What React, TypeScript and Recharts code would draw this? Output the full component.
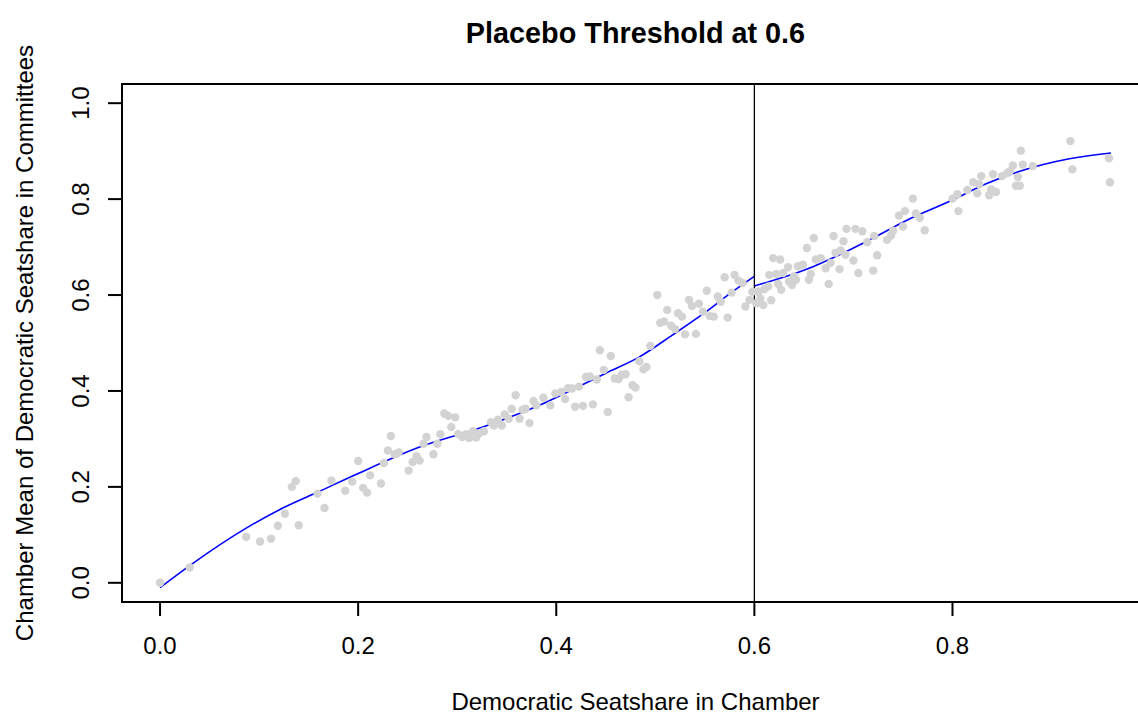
import React from 'react';
import {
  ComposedChart,
  Scatter,
  Line,
  XAxis,
  YAxis,
  ReferenceLine,
  ReferenceArea,
} from 'recharts';

const FONT = '"Liberation Sans", Arial, Helvetica, sans-serif';

const chartTitle = 'Placebo Threshold at 0.6';
const xTitle = 'Democratic Seatshare in Chamber';
const yTitle = 'Chamber Mean of Democratic Seatshare in Committees';

const xTicks = [0, 0.2, 0.4, 0.6, 0.8];
const yTicks = [0, 0.2, 0.4, 0.6, 0.8, 1.0];
const threshold = 0.6;

const seatshare = [
  0.0, 0.03, 0.087, 0.101, 0.112, 0.119, 0.126, 0.133, 0.137, 0.14, 0.159, 0.166,
  0.173, 0.187, 0.194, 0.2, 0.205, 0.209, 0.212, 0.223, 0.226, 0.23, 0.233, 0.237,
  0.241, 0.251, 0.255, 0.259, 0.262, 0.266, 0.269, 0.276, 0.28, 0.283, 0.287, 0.291,
  0.294, 0.298, 0.301, 0.305, 0.309, 0.312, 0.316, 0.319, 0.322, 0.327, 0.334, 0.337,
  0.341, 0.345, 0.348, 0.352, 0.355, 0.359, 0.363, 0.366, 0.369, 0.373, 0.377, 0.38,
  0.387, 0.394, 0.399, 0.405, 0.409, 0.412, 0.416, 0.419, 0.423, 0.427, 0.43, 0.434,
  0.437, 0.441, 0.444, 0.448, 0.452, 0.455, 0.459, 0.463, 0.466, 0.47, 0.473, 0.477,
  0.48, 0.484, 0.488, 0.491, 0.495, 0.502, 0.505, 0.509, 0.512, 0.516, 0.52, 0.523,
  0.527, 0.53, 0.534, 0.537, 0.541, 0.544, 0.548, 0.552, 0.555, 0.559, 0.563, 0.566,
  0.57, 0.573, 0.577, 0.58, 0.584, 0.588, 0.591, 0.595, 0.598, 0.602, 0.604, 0.606,
  0.609, 0.61, 0.614, 0.615, 0.617, 0.619, 0.622, 0.624, 0.626, 0.627, 0.629, 0.634,
  0.635, 0.638, 0.64, 0.642, 0.644, 0.649, 0.653, 0.655, 0.657, 0.66, 0.662, 0.667,
  0.672, 0.675, 0.677, 0.68, 0.682, 0.686, 0.687, 0.69, 0.692, 0.693, 0.7, 0.702,
  0.705, 0.709, 0.714, 0.72, 0.721, 0.724, 0.734, 0.738, 0.74, 0.746, 0.75, 0.752,
  0.76, 0.763, 0.767, 0.772, 0.8, 0.805, 0.806, 0.815, 0.821, 0.825, 0.827, 0.829,
  0.837, 0.839, 0.841, 0.844, 0.85, 0.855, 0.858, 0.861, 0.864, 0.866, 0.868, 0.869,
  0.871, 0.881, 0.919, 0.921, 0.958, 0.959,
];

const committeeMean = [
  0.0, 0.032, 0.096, 0.086, 0.092, 0.119, 0.144, 0.2, 0.212, 0.12, 0.186, 0.156,
  0.213, 0.192, 0.211, 0.254, 0.198, 0.188, 0.224, 0.207, 0.25, 0.276, 0.306, 0.268,
  0.272, 0.234, 0.252, 0.264, 0.255, 0.29, 0.304, 0.268, 0.29, 0.31, 0.353, 0.348,
  0.325, 0.345, 0.31, 0.304, 0.31, 0.302, 0.316, 0.303, 0.311, 0.316, 0.335, 0.328,
  0.34, 0.328, 0.351, 0.342, 0.363, 0.391, 0.342, 0.361, 0.363, 0.333, 0.379, 0.37,
  0.386, 0.37, 0.395, 0.398, 0.383, 0.406, 0.405, 0.367, 0.409, 0.369, 0.429, 0.43,
  0.372, 0.424, 0.485, 0.444, 0.356, 0.473, 0.426, 0.425, 0.434, 0.435, 0.387, 0.412,
  0.407, 0.462, 0.445, 0.45, 0.494, 0.6, 0.542, 0.545, 0.569, 0.536, 0.529, 0.562,
  0.555, 0.518, 0.59, 0.577, 0.519, 0.582, 0.565, 0.609, 0.556, 0.555, 0.597, 0.586,
  0.637, 0.553, 0.605, 0.642, 0.63, 0.625, 0.576, 0.59, 0.607, 0.583, 0.607, 0.593,
  0.579, 0.612, 0.618, 0.642, 0.589, 0.677, 0.644, 0.623, 0.674, 0.611, 0.646, 0.658,
  0.628, 0.621, 0.639, 0.632, 0.66, 0.663, 0.698, 0.632, 0.644, 0.719, 0.674, 0.677,
  0.656, 0.623, 0.667, 0.723, 0.688, 0.654, 0.693, 0.712, 0.684, 0.738, 0.672, 0.738,
  0.646, 0.733, 0.71, 0.651, 0.723, 0.683, 0.715, 0.724, 0.734, 0.766, 0.743, 0.775,
  0.801, 0.77, 0.761, 0.735, 0.801, 0.81, 0.775, 0.819, 0.835, 0.812, 0.831, 0.848,
  0.808, 0.82, 0.852, 0.815, 0.848, 0.854, 0.858, 0.87, 0.828, 0.846, 0.828, 0.901,
  0.872, 0.869, 0.921, 0.862, 0.885, 0.835,
];

// fitted curve below the threshold
const fitBelowX = [0, 0.03, 0.087, 0.126, 0.16, 0.2, 0.262, 0.326, 0.383, 0.4165, 0.45, 0.484, 0.5175, 0.551, 0.578, 0.6];
const fitBelowY = [-0.01, 0.036, 0.114, 0.158, 0.19, 0.228, 0.283, 0.325, 0.37, 0.403, 0.437, 0.471, 0.517, 0.565, 0.607, 0.639];

// fitted curve above the threshold
const fitAboveX = [0.6, 0.652, 0.686, 0.72, 0.753, 0.8, 0.834, 0.868, 0.918, 0.96];
const fitAboveY = [0.619, 0.653, 0.684, 0.719, 0.755, 0.798, 0.832, 0.858, 0.884, 0.896];

const points = seatshare.map((x, i) => ({ x, y: committeeMean[i] }));
const fitBelow = fitBelowX.map((x, i) => ({ x, y: fitBelowY[i] }));
const fitAbove = fitAboveX.map((x, i) => ({ x, y: fitAboveY[i] }));

const X_DOMAIN = [-0.0384, 0.9984];
const Y_DOMAIN = [-0.04, 1.04];

const XTick = (props: any) => {
  const { x, y, payload } = props;
  return (
    <text x={x} y={y + 36} textAnchor="middle" fontSize={24} fontFamily={FONT} fill="#000">
      {Number(payload.value).toFixed(1)}
    </text>
  );
};

const YTick = (props: any) => {
  const { x, y, payload } = props;
  const bx = x - 17;
  return (
    <text
      x={bx}
      y={y}
      transform={`rotate(-90, ${bx}, ${y})`}
      textAnchor="middle"
      fontSize={24}
      fontFamily={FONT}
      fill="#000"
    >
      {Number(payload.value).toFixed(1)}
    </text>
  );
};

const XTitle = (props: any) => {
  const vb = props.viewBox || {};
  return (
    <text
      x={vb.x + vb.width / 2}
      y={vb.y + 108}
      textAnchor="middle"
      fontSize={24}
      fontFamily={FONT}
      fill="#000"
    >
      {xTitle}
    </text>
  );
};

const YTitle = (props: any) => {
  const vb = props.viewBox || {};
  const bx = vb.x + vb.width - 89;
  const cy = vb.y + vb.height / 2;
  return (
    <text
      x={bx}
      y={cy}
      transform={`rotate(-90, ${bx}, ${cy})`}
      textAnchor="middle"
      fontSize={24}
      fontFamily={FONT}
      fill="#000"
    >
      {yTitle}
    </text>
  );
};

const Dot = (props: any) => {
  const { cx, cy } = props;
  if (cx == null || cy == null) return null;
  return <circle cx={cx} cy={cy} r={4.2} fill="#d3d3d3" />;
};

export default function App() {
  return (
    <div
      style={{
        position: 'absolute',
        left: 0,
        top: 0,
        width: 1138,
        height: 715,
        overflow: 'hidden',
        background: '#fff',
        fontFamily: FONT,
      }}
    >
      <div
        style={{
          position: 'absolute',
          left: 0,
          top: 18.6,
          width: 1271,
          textAlign: 'center',
          fontSize: 28.8,
          lineHeight: 1,
          fontWeight: 'bold',
          color: '#000',
        }}
      >
        {chartTitle}
      </div>
      <ComposedChart
        width={1160}
        height={715}
        margin={{ top: 84, right: 11, bottom: 0, left: 0 }}
      >
        <XAxis
          dataKey="x"
          type="number"
          domain={X_DOMAIN}
          allowDataOverflow
          ticks={xTicks}
          interval={0}
          height={113}
          tickSize={14}
          axisLine={false}
          tickLine={{ stroke: '#000', strokeWidth: 2 }}
          tick={XTick}
          label={{ content: XTitle }}
        />
        <YAxis
          dataKey="y"
          type="number"
          domain={Y_DOMAIN}
          allowDataOverflow
          ticks={yTicks}
          interval={0}
          width={122}
          tickSize={14}
          axisLine={false}
          tickLine={{ stroke: '#000', strokeWidth: 2 }}
          tick={YTick}
          label={{ content: YTitle }}
        />
        <Scatter data={points} dataKey="y" shape={Dot} isAnimationActive={false} />
        <Line
          data={fitBelow}
          dataKey="y"
          type="monotone"
          stroke="#0000ff"
          strokeWidth={1.6}
          dot={false}
          isAnimationActive={false}
        />
        <Line
          data={fitAbove}
          dataKey="y"
          type="monotone"
          stroke="#0000ff"
          strokeWidth={1.6}
          dot={false}
          isAnimationActive={false}
        />
        <ReferenceLine x={threshold} stroke="#000" strokeWidth={1.3} ifOverflow="visible" />
        <ReferenceArea
          x1={X_DOMAIN[0]}
          x2={X_DOMAIN[1]}
          y1={Y_DOMAIN[0]}
          y2={Y_DOMAIN[1]}
          fill="none"
          fillOpacity={0}
          stroke="#000"
          strokeWidth={2}
          ifOverflow="visible"
        />
      </ComposedChart>
    </div>
  );
}
